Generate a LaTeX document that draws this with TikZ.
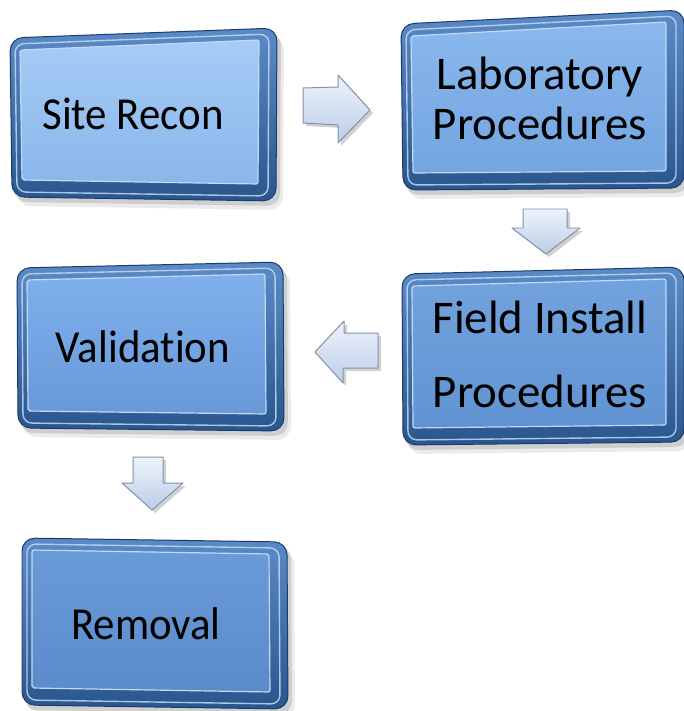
\documentclass[tikz,border=0pt]{standalone}
\usepackage{fontspec}
\usepackage{graphicx}
\setmainfont{Carlito}[Ligatures=NoCommon]
\usetikzlibrary{calc}
\definecolor{frameTop}{HTML}{5B8BC7}
\definecolor{frameBot}{HTML}{2A568E}
\definecolor{frameLine}{HTML}{1B3B6A}
\definecolor{hiLine}{HTML}{C2DAF3}
\definecolor{siteA}{HTML}{A6CCF6}\definecolor{siteB}{HTML}{8AB6EB}
\definecolor{labA}{HTML}{8AB8EE}\definecolor{labB}{HTML}{74A5E0}
\definecolor{fieldA}{HTML}{72A3DE}\definecolor{fieldB}{HTML}{6193D2}
\definecolor{valA}{HTML}{80B0EC}\definecolor{valB}{HTML}{6898D6}
\definecolor{remA}{HTML}{6A9AD8}\definecolor{remB}{HTML}{5B8BCA}
\definecolor{arrA}{HTML}{EEF3FB}\definecolor{arrB}{HTML}{BCCDE7}
\definecolor{arrLine}{HTML}{8192AE}
\newcommand{\twoln}[3]{\vtop{\baselineskip=#3\lineskiplimit=-100pt\halign{\hfil##\hfil\cr #1\cr #2\cr}}}
\newcommand{\bevbox}[5]{%
  \coordinate (bA) at (#1); \coordinate (bB) at (#2);
  \coordinate (bC) at (#3); \coordinate (bD) at (#4);
  \fill[black,opacity=.08,rounded corners=14] ($(bA)+(5,8)$) -- ($(bB)+(7,8)$) -- ($(bC)+(7,9)$) -- ($(bD)+(5,9)$) -- cycle;
  \fill[black,opacity=.12,rounded corners=13] ($(bA)+(2,4)$) -- ($(bB)+(4,4)$) -- ($(bC)+(4,5)$) -- ($(bD)+(2,5)$) -- cycle;
  \shade[boxframe] (bA) -- (bB) -- (bC) -- (bD) -- cycle;
  \draw[hiLine,line width=1.4,rounded corners=9,opacity=.85] ($(bA)+(5,6)$) -- ($(bB)+(-8,6)$) -- ($(bC)+(-8,-5)$) -- ($(bD)+(5,-5)$) -- cycle;
  \shade[#5,draw=hiLine,line width=1.2,rounded corners=2] ($(bA)+(10,12)$) -- ($(bB)+(-18,12)$) -- ($(bC)+(-18,-17)$) -- ($(bD)+(10,-17)$) -- cycle;
}
\newcommand{\blockarrow}[1]{%
  \fill[black,opacity=.18,shift={(3,3)}] #1 -- cycle;
  \shade[blockarr] #1 -- cycle;
}
\tikzset{
  boxframe/.style={rounded corners=13,top color=frameTop,bottom color=frameBot,draw=frameLine,line width=1},
  siteface/.style={top color=siteA,bottom color=siteB},
  labface/.style={top color=labA,bottom color=labB},
  fieldface/.style={top color=fieldA,bottom color=fieldB},
  valface/.style={top color=valA,bottom color=valB},
  remface/.style={top color=remA,bottom color=remB},
  blockarr/.style={top color=arrA,bottom color=arrB,draw=arrLine,line width=1,line join=round},
  onelabel/.style={inner sep=0,anchor=base,font=\fontsize{43}{50}\selectfont,text=black},
  twolabel/.style={inner sep=0,anchor=base,font=\fontsize{47}{50}\selectfont,text=black}
}
\begin{document}
\begin{tikzpicture}[x=1bp,y=-1bp]
\fill[white] (0,0) rectangle (684,711);
\useasboundingbox (0,0) rectangle (684,711);

% boxes
\bevbox{10,38}{277,28}{276,201}{12,197}{siteface}
\bevbox{401,24}{684,10}{684,188}{403,190}{labface}
\bevbox{402,274}{684,267}{684,442}{403,445}{fieldface}
\bevbox{17,268}{283,262}{284,431}{18,428}{valface}
\bevbox{22,538}{287,542}{288,709}{22,705}{remface}

% labels
\node[onelabel] (site) at (133,130) {\scalebox{1}[1.07]{Site Recon}};
\node[twolabel] (lab) at (540,90) {\twoln{Laboratory}{Procedures}{50bp}};
\node[twolabel] (field) at (540,333) {\twoln{Field Install}{Procedures}{74bp}};
\node[onelabel] (valid) at (143,362) {\scalebox{1}[1.07]{Validation}};
\node[onelabel] (remov) at (146,639) {\scalebox{1}[1.07]{Removal}};

% block arrows
\coordinate (a1) at (336,110);
\coordinate (a2) at (546,230);
\coordinate (a3) at (346,352);
\coordinate (a4) at (152,483);
\blockarrow{(303,88) -- (338,87) -- (338,75) -- (370,110) -- (338,143) -- (338,125) -- (303,123)}
\blockarrow{(523,209) -- (567,209) -- (567,228) -- (580,228) -- (546,254) -- (512,228) -- (523,228)}
\blockarrow{(378,333) -- (344,333) -- (344,321) -- (315,352) -- (343,383) -- (343,368) -- (378,368)}
\blockarrow{(133,457) -- (163,457) -- (163,483) -- (183,483) -- (152,510) -- (122,483) -- (133,483)}
\end{tikzpicture}
\end{document}
